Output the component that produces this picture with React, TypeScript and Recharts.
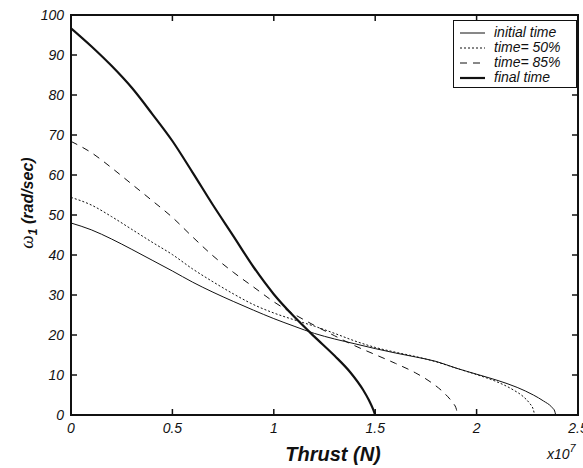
import React from "react";
import { LineChart, Line, XAxis, YAxis, Legend, ReferenceArea } from "recharts";

// thrust in units of 1e7 N, omega_1 in rad/sec
const initialTime = [
  { x: 0, y: 48 }, { x: 0.1, y: 46.3 }, { x: 0.2, y: 44 }, { x: 0.3, y: 41.4 },
  { x: 0.4, y: 38.7 }, { x: 0.5, y: 36 }, { x: 0.6, y: 33.2 }, { x: 0.7, y: 30.7 },
  { x: 0.8, y: 28.4 }, { x: 0.9, y: 26.2 }, { x: 1.0, y: 24.1 }, { x: 1.1, y: 22.2 },
  { x: 1.2, y: 20.4 }, { x: 1.3, y: 19 }, { x: 1.4, y: 17.8 }, { x: 1.5, y: 16.6 },
  { x: 1.6, y: 15.5 }, { x: 1.7, y: 14.5 }, { x: 1.8, y: 13.4 }, { x: 1.9, y: 11.7 },
  { x: 2.0, y: 10.2 }, { x: 2.1, y: 8.7 }, { x: 2.2, y: 6.9 }, { x: 2.28, y: 5 },
  { x: 2.33, y: 3.5 }, { x: 2.37, y: 2 }, { x: 2.385, y: 1 }, { x: 2.39, y: 0 },
];

const time50 = [
  { x: 0, y: 54.4 }, { x: 0.1, y: 52.5 }, { x: 0.2, y: 49.6 }, { x: 0.3, y: 46.4 },
  { x: 0.4, y: 43.2 }, { x: 0.5, y: 40.1 }, { x: 0.6, y: 36.5 }, { x: 0.7, y: 33.3 },
  { x: 0.8, y: 30.3 }, { x: 0.9, y: 27.6 }, { x: 1.0, y: 25.5 }, { x: 1.1, y: 23.8 },
  { x: 1.2, y: 22.2 }, { x: 1.3, y: 20.4 }, { x: 1.4, y: 18.5 }, { x: 1.5, y: 16.9 },
  { x: 1.6, y: 15.7 }, { x: 1.7, y: 14.6 }, { x: 1.8, y: 13.3 }, { x: 1.9, y: 11.7 },
  { x: 2.0, y: 10.1 }, { x: 2.1, y: 8.3 }, { x: 2.18, y: 6.3 }, { x: 2.23, y: 4.6 },
  { x: 2.26, y: 3 }, { x: 2.28, y: 1.3 }, { x: 2.286, y: 0 },
];

const time85 = [
  { x: 0, y: 68.4 }, { x: 0.1, y: 65.6 }, { x: 0.2, y: 61.8 }, { x: 0.3, y: 57.7 },
  { x: 0.4, y: 53.6 }, { x: 0.5, y: 49.4 }, { x: 0.6, y: 44.5 }, { x: 0.7, y: 39.8 },
  { x: 0.8, y: 35.7 }, { x: 0.9, y: 32 }, { x: 1.0, y: 28.3 }, { x: 1.1, y: 25.2 },
  { x: 1.2, y: 22.4 }, { x: 1.3, y: 19.8 }, { x: 1.4, y: 17.3 }, { x: 1.5, y: 15.1 },
  { x: 1.6, y: 12.9 }, { x: 1.7, y: 10.5 }, { x: 1.78, y: 8 }, { x: 1.84, y: 5.5 },
  { x: 1.88, y: 3.2 }, { x: 1.9, y: 1.5 }, { x: 1.905, y: 0 },
];

const finalTime = [
  { x: 0, y: 96.7 }, { x: 0.1, y: 92.2 }, { x: 0.2, y: 87.3 }, { x: 0.3, y: 81.8 },
  { x: 0.4, y: 75.3 }, { x: 0.5, y: 68.5 }, { x: 0.6, y: 60.6 }, { x: 0.7, y: 52.5 },
  { x: 0.8, y: 44.8 }, { x: 0.9, y: 37 }, { x: 1.0, y: 30.2 }, { x: 1.1, y: 24.6 },
  { x: 1.2, y: 19.6 }, { x: 1.3, y: 14.8 }, { x: 1.38, y: 10.5 }, { x: 1.44, y: 6.3 },
  { x: 1.47, y: 3.6 }, { x: 1.49, y: 1.4 }, { x: 1.5, y: 0 },
];

const xTicks = [0, 0.5, 1, 1.5, 2, 2.5];
const yTicks = [0, 10, 20, 30, 40, 50, 60, 70, 80, 90, 100];

const series = [
  { name: "initial time", data: initialTime, width: 1, dash: undefined },
  { name: "time= 50%", data: time50, width: 1, dash: "2 2" },
  { name: "time= 85%", data: time85, width: 1, dash: "7 6" },
  { name: "final time", data: finalTime, width: 2.2, dash: undefined },
];

const FONT = '"Liberation Sans", Arial, Helvetica, sans-serif';
const INK = "#111";
const TICK = 6;
// plot box edges (chart margin + axis sizes)
const PLOT_TOP = 15;
const PLOT_RIGHT = 578;

const BottomTick = ({ x, y, payload }: any) => (
  <g>
    <line x1={x} y1={y} x2={x} y2={y - TICK} stroke={INK} strokeWidth={1.5} />
    <line x1={x} y1={PLOT_TOP} x2={x} y2={PLOT_TOP + TICK} stroke={INK} strokeWidth={1.5} />
    <text x={x} y={y + 18} textAnchor="middle" fontSize={14} fontStyle="italic" fontFamily={FONT} fill={INK}>
      {payload.value}
    </text>
  </g>
);

const LeftTick = ({ x, y, payload }: any) => (
  <g>
    <line x1={x} y1={y} x2={x + TICK} y2={y} stroke={INK} strokeWidth={1.5} />
    <line x1={PLOT_RIGHT} y1={y} x2={PLOT_RIGHT - TICK} y2={y} stroke={INK} strokeWidth={1.5} />
    <text x={x - 7} y={y + 5} textAnchor="end" fontSize={14} fontStyle="italic" fontFamily={FONT} fill={INK}>
      {payload.value}
    </text>
  </g>
);

const LegendBox = () => (
  <div
    style={{
      border: "1px solid #111",
      background: "#fff",
      width: 124,
      height: 68,
      boxSizing: "border-box",
      paddingTop: 4,
      fontFamily: FONT,
      fontStyle: "italic",
      fontSize: 14,
      color: INK,
    }}
  >
    {series.map((s) => (
      <div key={s.name} style={{ display: "flex", alignItems: "center", height: 15 }}>
        <svg width={40} height={15} style={{ display: "block" }}>
          <line x1={6} y1={8} x2={31} y2={8} stroke={INK} strokeWidth={s.width} strokeDasharray={s.dash} />
        </svg>
        <span style={{ lineHeight: "15px" }}>{s.name}</span>
      </div>
    ))}
  </div>
);

export default function App() {
  return (
    <div style={{ position: "absolute", left: 0, top: 0, width: 583, height: 468, background: "#fff" }}>
      <LineChart width={583} height={468} margin={{ top: 15, right: 5, bottom: 0, left: 0 }}>
        <XAxis
          dataKey="x"
          type="number"
          domain={[0, 2.5]}
          ticks={xTicks}
          height={53}
          tickSize={0}
          tickMargin={0}
          tickLine={false}
          axisLine={false}
          tick={<BottomTick />}
          interval={0}
          allowDataOverflow
        />
        <YAxis
          type="number"
          domain={[0, 100]}
          ticks={yTicks}
          width={71}
          tickSize={0}
          tickMargin={0}
          tickLine={false}
          axisLine={false}
          tick={<LeftTick />}
          interval={0}
          allowDataOverflow
        />
        {series.map((s) => (
          <Line
            key={s.name}
            data={s.data}
            dataKey="y"
            name={s.name}
            type="monotone"
            stroke={INK}
            strokeWidth={s.width}
            strokeDasharray={s.dash}
            dot={false}
            isAnimationActive={false}
          />
        ))}
        <ReferenceArea
          x1={0}
          x2={2.5}
          y1={0}
          y2={100}
          fill="none"
          fillOpacity={0}
          stroke={INK}
          strokeWidth={2}
          strokeOpacity={1}
        />
        <Legend
          layout="vertical"
          align="center"
          verticalAlign="middle"
          wrapperStyle={{ left: 453, top: 20, width: 124, height: 68 }}
          content={<LegendBox />}
        />
      </LineChart>
      <svg
        width={583}
        height={468}
        style={{ position: "absolute", left: 0, top: 0, pointerEvents: "none" }}
      >
        <text x={333} y={461} textAnchor="middle" fontFamily={FONT} fontSize={20} fontWeight="bold" fontStyle="italic" fill={INK}>
          Thrust (N)
        </text>
        <text x={547} y={459} fontFamily={FONT} fontSize={14} fontStyle="italic" fill={INK}>
          x10
          <tspan dy={-7} fontSize={11}>7</tspan>
        </text>
        <text transform="translate(33,203) rotate(-90)" textAnchor="middle" fill={INK} fontFamily={FONT}>
          <tspan fontFamily='"Liberation Serif", "Times New Roman", serif' fontStyle="italic" fontSize={19}>ω</tspan>
          <tspan fontSize={12} fontWeight="bold" fontStyle="italic" dy={4}>1</tspan>
          <tspan fontSize={16} fontWeight="bold" fontStyle="italic" dy={-4}> (rad/sec)</tspan>
        </text>
      </svg>
    </div>
  );
}
